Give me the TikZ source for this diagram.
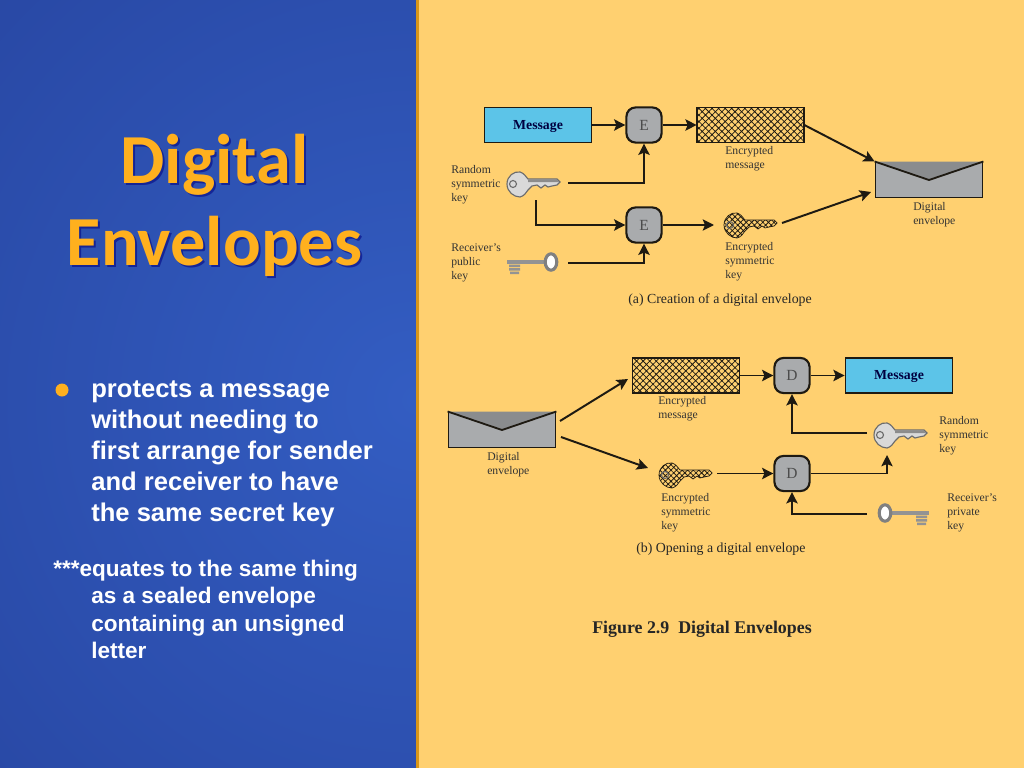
\documentclass[tikz,border=0pt]{standalone}
\usepackage{fontspec}
\setmainfont{Liberation Serif}
\newfontfamily\titleFont{Carlito}
\newfontfamily\bodyFont{Liberation Sans}
\usetikzlibrary{arrows.meta,patterns.meta}
\definecolor{envPanel}{HTML}{FFD070}
\definecolor{envGold}{HTML}{FFB01E}
\definecolor{envInk}{HTML}{1E1A12}
\definecolor{envSky}{HTML}{5CC4E8}
\definecolor{envGrey}{HTML}{A9ABAD}
\definecolor{envFlap}{HTML}{8A8C8E}
\definecolor{envDeep}{HTML}{2847A3}
\definecolor{envMid}{HTML}{335DC2}
\begin{document}
\begin{tikzpicture}[x=0.025cm,y=-0.025cm,
    envArrow/.style={-{Stealth[length=8pt,width=8pt,inset=1.6pt]},line width=1.4pt,draw=envInk},
    envBox/.style={draw=envInk,line width=1.3pt,minimum width=76pt,minimum height=25pt,inner sep=0pt},
    envMsg/.style={envBox,fill=envSky,text height=7pt,text depth=1pt,font=\fontsize{9.8}{11}\selectfont\bfseries,text=black!75!blue},
    envHatch/.style={envBox,pattern={Hatch[angle=45,distance=3.3pt,line width=.55pt]},pattern color=envInk},
    envOp/.style={draw=envInk,line width=1.5pt,fill=envGrey,rounded corners=6.5pt,minimum width=25pt,minimum height=25pt,inner sep=0pt,font=\fontsize{11}{12}\selectfont,text=black!70},
    envLabel/.style={anchor=north west,inner sep=0pt,align=left,font=\fontsize{8.3}{10}\selectfont,text=black!80},
    envCaption/.style={anchor=west,inner sep=0pt,font=\fontsize{9.85}{11}\selectfont,text=black!85},
    bodyText/.style={anchor=north west,inner sep=0pt,align=left,text=white,font=\bodyFont\bfseries\fontsize{18.2}{22}\selectfont},
    bodySmall/.style={anchor=north west,inner sep=0pt,align=left,text=white,font=\bodyFont\bfseries\fontsize{16.05}{19.6}\selectfont},
    titleText/.style={inner sep=0pt,align=center,font=\titleFont\bfseries\fontsize{50}{58.5}\selectfont},
    keyLook/.style={fill=gray!30,draw=gray!85!black,line width=.8pt},
    keyBlade/.style={fill=gray!90},
    keyHatch/.style={keyLook/.style={pattern={Hatch[angle=45,distance=2.8pt,line width=.55pt]},pattern color=envInk,draw=envInk,line width=.5pt},keyBlade/.style={}},
    pics/symKey/.style={code={
        \path[keyLook] (0,0) .. controls (0,-8) and (7,-13) .. (13,-12)
            .. controls (17,-11) and (19,-7) .. (21,-5) -- (50,-5) -- (53,-2) -- (50,1) -- (45,2)
            -- (41,3) -- (38,1) -- (34,4) -- (30,1) -- (25,2) -- (21,6)
            .. controls (19,9) and (17,12) .. (13,13) .. controls (7,13) and (0,8) .. (0,0) -- cycle;
        \path[keyBlade] (21,-4.5) -- (50,-4.5) -- (52,-2) -- (21,-2) -- cycle;
        \path[draw=gray!85!black,line width=.8pt] (6,0) circle (3.5);
    }},
    pics/oldKey/.style={code={
        \fill[gray!85] (8,-2.3) rectangle (51,2.3);
        \fill[gray!85] (38,2.5) rectangle (49,5) (38,6) rectangle (49,8.5) (39,9.5) rectangle (48,12);
        \filldraw[fill=white,draw=gray,line width=2.2pt] (7,0) ellipse (5.8 and 8.2);
    }},
]
% Background
\fill[envPanel] (0,0) rectangle (1024,768);
\begin{scope}
\clip (0,0) rectangle (416,768);
\shade[inner color=envMid,outer color=envDeep] (416,400) circle (620);
\end{scope}
\fill[envGold!85!black] (416,0) rectangle (418.5,768);
\useasboundingbox (0,0) rectangle (1024,768);
% Title
\node[titleText,text=black!50!blue,opacity=.55] at (216.5,207.5) {Digital\\Envelopes};
\node[titleText,text=envGold] (Title) at (214.5,205.5) {Digital\\Envelopes};
% Bullet text
\fill[envGold] (62,390) circle (6.5);
\node[bodyText] (Body1) at (91,381) {protects a message\\without needing to\\first arrange for sender\\and receiver to have\\the same secret key};
\node[bodySmall] (Body2) at (53,560) {***equates to the same thing};
\node[bodySmall] (Body3) at (91,587) {as a sealed envelope\\containing an unsigned\\letter};
% Part (a)
\node[envMsg] (MsgA) at (538,125) {Message\hspace{3pt}};
\node[envOp] (E1) at (644,125) {E};
\node[envHatch] (HatchA) at (750.5,125) {};
\node[envOp] (E2) at (644,225) {E};
\node[envBox,fill=envGrey] (EnvA) at (929,180) {};
\fill[envFlap] (EnvA.north west) -- (929,180) -- (EnvA.north east) -- cycle;
\draw[envInk,line width=1.3pt] (EnvA.north west) -- (929,180) -- (EnvA.north east);
\pic at (507,184) {symKey};
\pic[keyHatch] at (724,225) {symKey};
\pic[xscale=-1] at (558,262) {oldKey};
\coordinate (KeyOutA) at (568,183);
\coordinate (KeyDownA) at (536,200);
\coordinate (PubOut) at (568,263);
\coordinate (EncKeyIn) at (714,225);
\coordinate (EncKeyOut) at (782,223);
\coordinate (EnvInA) at (871,192);
\draw[envArrow] (MsgA) -- (E1);
\draw[envArrow] (E1) -- (HatchA);
\draw[envArrow] (KeyOutA) -| (E1);
\draw[envArrow] (KeyDownA) |- (E2);
\draw[envArrow] (PubOut) -| (E2);
\draw[envArrow] (E2) -- (EncKeyIn);
\draw[envArrow] (HatchA.east) -- (EnvA.north west);
\draw[envArrow] (EncKeyOut) -- (EnvInA);
\node[envLabel] (LblA1) at (451,165) {Random\\symmetric\\key};
\node[envLabel] (LblA2) at (451,243) {Receiver's\\public\\key};
\node[envLabel] (LblA3) at (725,146) {Encrypted\\message};
\node[envLabel] (LblA4) at (725,242) {Encrypted\\symmetric\\key};
\node[envLabel] (LblA5) at (913,202) {Digital\\envelope};
\node[envCaption] (CapA) at (628,300) {(a) Creation of a digital envelope};
% Part (b)
\node[envBox,fill=envGrey] (EnvB) at (502,430) {};
\fill[envFlap] (EnvB.north west) -- (502,430) -- (EnvB.north east) -- cycle;
\draw[envInk,line width=1.3pt] (EnvB.north west) -- (502,430) -- (EnvB.north east);
\node[envHatch] (HatchB) at (686,375.5) {};
\node[envOp] (D1) at (792,375.5) {D};
\node[envMsg] (MsgB) at (899,375.5) {Message\hspace{3pt}};
\node[envOp] (D2) at (792,473.5) {D};
\pic[keyHatch] at (659,475) {symKey};
\pic at (874,435) {symKey};
\pic at (878,513) {oldKey};
\coordinate (EnvOutB1) at (560,421);
\coordinate (HatchIn) at (628,379);
\coordinate (EnvOutB2) at (561,437);
\coordinate (EncKeyInB) at (648,468);
\coordinate (EncKeyOutB) at (717,473.5);
\coordinate (KeyOutB) at (867,433);
\coordinate (KeyInB) at (887,455);
\coordinate (PrivOut) at (867,514);
\draw[envArrow] (EnvOutB1) -- (HatchIn);
\draw[envArrow] (EnvOutB2) -- (EncKeyInB);
\draw[envArrow] (HatchB) -- (D1);
\draw[envArrow] (D1) -- (MsgB);
\draw[envArrow] (EncKeyOutB) -- (D2);
\draw[envArrow] (KeyOutB) -| (D1);
\draw[envArrow] (D2) -| (KeyInB);
\draw[envArrow] (PrivOut) -| (D2);
\node[envLabel] (LblB1) at (658,396) {Encrypted\\message};
\node[envLabel] (LblB2) at (487,452) {Digital\\envelope};
\node[envLabel] (LblB3) at (661,493) {Encrypted\\symmetric\\key};
\node[envLabel] (LblB4) at (939,416) {Random\\symmetric\\key};
\node[envLabel] (LblB5) at (947,493) {Receiver's\\private\\key};
\node[envCaption] (CapB) at (636,549.5) {(b) Opening a digital envelope};
\node[envCaption,font=\fontsize{12.7}{14}\selectfont\bfseries] (FigCap) at (592,629) {Figure 2.9\ \ Digital Envelopes};
\end{tikzpicture}
\end{document}
